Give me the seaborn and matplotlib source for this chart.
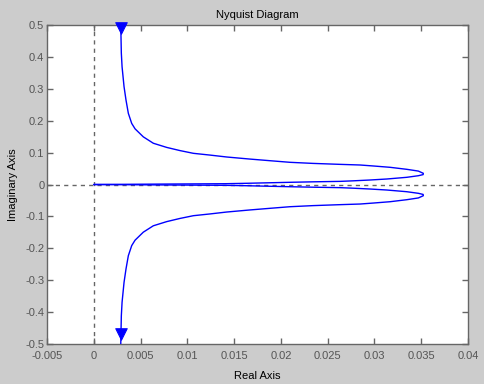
import numpy as np
import pandas as pd
import matplotlib
matplotlib.use("Agg")
import matplotlib.pyplot as plt
import seaborn as sns

# upper half of the Nyquist curve (positive frequencies)
re_upper = [0.00285, 0.00288, 0.00294, 0.00302, 0.00323, 0.00344, 0.00369,
            0.00405, 0.00441, 0.00529, 0.00636, 0.00779, 0.00922, 0.01064,
            0.01242, 0.01421, 0.0167, 0.01884, 0.02097, 0.02343, 0.02632,
            0.02846, 0.02985, 0.03166, 0.03345, 0.03469, 0.03522, 0.0352,
            0.03469, 0.03345, 0.03131, 0.02953, 0.02771, 0.02632, 0.02343,
            0.02097, 0.01809, 0.01635, 0.014, 0.008, 0.0]
im_upper = [0.6, 0.498, 0.411, 0.368, 0.306, 0.264, 0.2225,
            0.191, 0.174, 0.149, 0.129, 0.116, 0.106, 0.0975,
            0.092, 0.086, 0.0795, 0.0744, 0.0694, 0.066, 0.063,
            0.061, 0.058, 0.0538, 0.0475, 0.042, 0.035, 0.031,
            0.0275, 0.0225, 0.0172, 0.0141, 0.0115, 0.0098, 0.0084,
            0.0069, 0.0050, 0.0038, 0.0025, 0.0015, 0.0]

# direction arrows
arrow_re = [0.00288, 0.00288]
arrow_im = [0.49, -0.467]

xticks = [-0.005, 0, 0.005, 0.01, 0.015, 0.02, 0.025, 0.03, 0.035, 0.04]
xlabels = ["-0.005", "0", "0.005", "0.01", "0.015", "0.02", "0.025", "0.03", "0.035", "0.04"]
yticks = [-0.5, -0.4, -0.3, -0.2, -0.1, 0, 0.1, 0.2, 0.3, 0.4, 0.5]
ylabels = ["-0.5", "-0.4", "-0.3", "-0.2", "-0.1", "0", "0.1", "0.2", "0.3", "0.4", "0.5"]


def main():
    sns.set_style("white")
    plt.rcParams["font.family"] = ["Liberation Sans", "DejaVu Sans"]

    # positive and negative frequency branches (mirror image)
    data = pd.concat([
        pd.DataFrame({"re": re_upper, "im": im_upper, "branch": "pos"}),
        pd.DataFrame({"re": re_upper, "im": [-v for v in im_upper], "branch": "neg"}),
    ], ignore_index=True)

    fig = plt.figure(figsize=(4.85, 3.84), dpi=100, facecolor="#cccccc")
    ax = fig.add_axes([0.097, 0.103, 0.868, 0.833])
    ax.set_facecolor("white")

    gray = "#666666"
    ax.axhline(0, color=gray, lw=1, ls=(0, (3, 3)), zorder=1)
    ax.axvline(0, color=gray, lw=1, ls=(0, (3, 3)), zorder=1)

    sns.lineplot(data=data, x="re", y="im", units="branch", estimator=None,
                 sort=False, color="#0000ff", lw=1.0, ax=ax, zorder=3)
    sns.scatterplot(x=arrow_re, y=arrow_im, marker="v", s=70, color="#0000ff",
                    edgecolor="#0000ff", ax=ax, zorder=4, clip_on=False)

    ax.set_xlim(-0.005, 0.04)
    ax.set_ylim(-0.5, 0.5)
    ax.set_xticks(xticks)
    ax.set_xticklabels(xlabels)
    ax.set_yticks(yticks)
    ax.set_yticklabels(ylabels)
    ax.tick_params(direction="in", length=4, width=1, color=gray, labelcolor="#555555",
                   labelsize=8, top=True, right=True, bottom=True, left=True, pad=2)
    ax.tick_params(axis="x", pad=5)
    for s in ax.spines.values():
        s.set_visible(True)
        s.set_color(gray)
        s.set_linewidth(1)

    ax.set_title("Nyquist Diagram", fontsize=8, color="black", pad=5)
    ax.set_xlabel("Real Axis", fontsize=8, color="black", labelpad=7)
    ax.set_ylabel("Imaginary Axis", fontsize=8, color="black", labelpad=5)

    fig.savefig("out.png", dpi=100, facecolor=fig.get_facecolor())


if __name__ == '__main__':
    main()
